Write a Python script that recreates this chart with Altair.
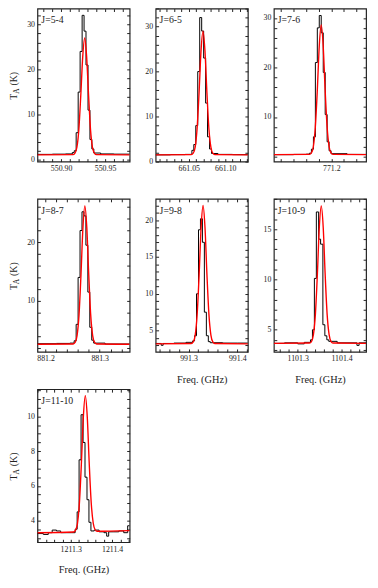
import math
import altair as alt
import pandas as pd

FONT = "Liberation Serif"
INK = "#222222"
RED = "#ff0000"
W, H = 94, 156

# ---------------- J=5-4 ----------------
p1_label = "J=5-4"
p1_xdomain = [550.873, 550.978]
p1_ydomain = [-0.4, 33.5]
p1_xmajor = [550.90, 550.95]
p1_ymajor = [0, 10, 20, 30]
p1_black_f = [550.873, 550.890, 550.905, 550.9127, 550.9149, 550.9171, 550.9194, 550.9216,
              550.9239, 550.9261, 550.9283, 550.9306, 550.9328, 550.9350, 550.9372, 550.945, 550.960, 550.978]
p1_black_t = [1.2, 1.25, 1.3, 1.6, 2.0, 6.0, 15.0, 24.0, 32.0, 28.5, 21.0, 11.0, 4.5, 2.4, 1.5, 1.3, 1.25, 1.25]
p1_red_f = [550.873, 550.9134, 550.9156, 550.9179, 550.9201, 550.9223, 550.9246, 550.9268,
            550.9290, 550.9313, 550.9335, 550.9357, 550.9380, 550.9402, 550.978]
p1_red_t = [1.1, 1.15, 1.44, 2.73, 6.56, 14.05, 22.9, 27.0, 22.9, 14.05, 6.56, 2.73, 1.44, 1.15, 1.1]

# ---------------- J=6-5 ----------------
p2_label = "J=6-5"
p2_xdomain = [661.0046, 661.131]
p2_ydomain = [0.0, 34.0]
p2_xmajor = [661.05, 661.10]
p2_ymajor = [0, 10, 20, 30]
p2_black_f = [661.0046, 661.025, 661.045, 661.0543, 661.0569, 661.0596, 661.0623, 661.0650,
              661.0677, 661.0704, 661.0731, 661.0757, 661.0785, 661.0812, 661.090, 661.110, 661.131]
p2_black_t = [1.5, 1.55, 1.6, 2.5, 3.8, 8.0, 20.0, 32.0, 29.0, 23.0, 13.0, 5.5, 2.8, 1.8, 1.6, 1.55, 1.55]
p2_red_f = [661.0046, 661.0534, 661.0561, 661.0588, 661.0614, 661.0641, 661.0668, 661.0695,
            661.0722, 661.0749, 661.0776, 661.0803, 661.0829, 661.0856, 661.131]
p2_red_t = [1.5, 1.55, 1.86, 3.23, 7.3, 15.25, 24.6, 29.0, 24.6, 15.25, 7.3, 3.23, 1.86, 1.55, 1.5]

# ---------------- J=7-6 ----------------
p3_label = "J=7-6"
p3_xdomain = [771.1086, 771.2552]
p3_ydomain = [1.0, 31.9]
p3_xmajor = [771.2]
p3_ymajor = [10, 20, 30]
p3_black_f = [771.1086, 771.14, 771.160, 771.1652, 771.1683, 771.1715, 771.1746, 771.1777, 771.1808,
              771.1839, 771.1871, 771.1902, 771.1933, 771.1964, 771.1995, 771.225, 771.2552]
p3_black_t = [2.4, 2.45, 2.5, 2.7, 3.5, 6.0, 21.0, 28.0, 30.5, 27.0, 19.0, 10.5, 5.0, 3.2, 2.6, 2.45, 2.45]
p3_red_f = [771.1086, 771.1652, 771.1683, 771.1714, 771.1745, 771.1777, 771.1808, 771.1839,
            771.1870, 771.1901, 771.1933, 771.1964, 771.1995, 771.2026, 771.2552]
p3_red_t = [2.4, 2.45, 2.75, 4.05, 7.93, 15.5, 24.4, 28.6, 24.4, 15.5, 7.93, 4.05, 2.75, 2.45, 2.4]

# ---------------- J=8-7 ----------------
p4_label = "J=8-7"
p4_xdomain = [881.185, 881.3553]
p4_ydomain = [1.3, 27.4]
p4_xmajor = [881.2, 881.3]
p4_ymajor = [10, 20]
p4_black_f = [881.185, 881.22, 881.245, 881.2528, 881.2565, 881.2601, 881.2637, 881.2673,
              881.2709, 881.2745, 881.2781, 881.2817, 881.2853, 881.2889, 881.31, 881.3553]
p4_black_t = [2.7, 2.75, 2.8, 3.2, 6.0, 14.0, 22.0, 25.2, 24.5, 19.5, 11.5, 5.5, 3.3, 2.8, 2.65, 2.65]
p4_red_f = [881.185, 881.2510, 881.2546, 881.2582, 881.2618, 881.2654, 881.2690, 881.2726,
            881.2762, 881.2798, 881.2834, 881.2870, 881.2906, 881.2942, 881.3553]
p4_red_t = [2.6, 2.65, 2.91, 4.09, 7.58, 14.4, 22.45, 26.2, 22.45, 14.4, 7.58, 4.09, 2.91, 2.65, 2.6]

# ---------------- J=9-8 ----------------
p5_label = "J=9-8"
p5_xdomain = [991.2326, 991.4217]
p5_ydomain = [2.1, 22.9]
p5_xmajor = [991.3, 991.4]
p5_ymajor = [5, 10, 15, 20]
p5_black_f = [991.2326, 991.2440, 991.2480, 991.2700, 991.2950, 991.3084, 991.3124, 991.3164, 991.3205,
              991.3245, 991.3285, 991.3325, 991.3366, 991.3406, 991.3446, 991.3700, 991.4000, 991.4217]
p5_black_t = [3.25, 3.0, 3.25, 3.3, 3.4, 3.6, 4.3, 10.0, 18.7, 20.2, 17.0, 7.5, 4.3, 3.5, 3.35, 3.3, 3.3, 3.3]
p5_red_f = [991.2326, 991.3057, 991.3097, 991.3137, 991.3177, 991.3218, 991.3258, 991.3298,
            991.3338, 991.3378, 991.3419, 991.3459, 991.3499, 991.3539, 991.4217]
p5_red_t = [3.2, 3.24, 3.45, 4.38, 7.17, 12.6, 19.0, 22.0, 19.0, 12.6, 7.17, 4.38, 3.45, 3.24, 3.2]

# ---------------- J=10-9 ----------------
p6_label = "J=10-9"
p6_xdomain = [1101.2456, 1101.4559]
p6_ydomain = [2.8, 18.0]
p6_xmajor = [1101.3, 1101.4]
p6_ymajor = [5, 10, 15]
p6_black_f = [1101.2456, 1101.2700, 1101.3000, 1101.3150, 1101.3291, 1101.3336, 1101.3380, 1101.3425, 1101.3477,
              1101.3522, 1101.3574, 1101.3619, 1101.3664, 1101.3708, 1101.3900, 1101.4350, 1101.4400, 1101.4559]
p6_black_t = [3.65, 3.7, 3.6, 3.75, 4.0, 5.0, 10.1, 16.7, 14.0, 13.5, 5.5, 4.4, 4.0, 3.85, 3.7, 3.45, 3.7, 3.7]
p6_red_f = [1101.2456, 1101.3269, 1101.3313, 1101.3358, 1101.3403, 1101.3448, 1101.3492, 1101.3537,
            1101.3582, 1101.3626, 1101.3671, 1101.3716, 1101.3761, 1101.3805, 1101.4559]
p6_red_t = [3.65, 3.68, 3.83, 4.51, 6.53, 10.48, 15.13, 17.3, 15.13, 10.48, 6.53, 4.51, 3.83, 3.68, 3.65]

# ---------------- J=11-10 ----------------
p7_label = "J=11-10"
p7_xdomain = [1211.2195, 1211.4424]
p7_ydomain = [2.75, 11.57]
p7_xmajor = [1211.3, 1211.4]
p7_ymajor = [4, 6, 8, 10]
p7_black_f = [1211.2195, 1211.2338, 1211.2457, 1211.2552, 1211.2655, 1211.2757, 1211.2893, 1211.3012,
              1211.3107, 1211.3155, 1211.3202, 1211.3250, 1211.3298, 1211.3345, 1211.3393, 1211.3440,
              1211.3488, 1211.3567, 1211.3686, 1211.3805, 1211.3869, 1211.3917, 1211.4043, 1211.4162,
              1211.4281, 1211.4376, 1211.4424]
p7_black_t = [3.25, 3.2, 3.3, 3.45, 3.4, 3.3, 3.3, 3.3,
              3.5, 4.5, 7.5, 10.1, 8.5, 6.5, 5.2, 3.9,
              3.4, 3.45, 3.35, 3.3, 3.1, 3.35, 3.35, 3.4,
              3.3, 3.7, 3.7]
p7_red_f = [1211.2195, 1211.3066, 1211.3114, 1211.3162, 1211.3209, 1211.3257, 1211.3304, 1211.3352,
            1211.3400, 1211.3447, 1211.3495, 1211.3543, 1211.3590, 1211.3638, 1211.4424]
p7_red_t = [3.3, 3.34, 3.43, 3.82, 4.99, 7.26, 9.93, 11.2, 9.95, 7.3, 5.03, 3.86, 3.47, 3.38, 3.42]

x_title = "Freq. (GHz)"
y_title_parts = ["T", "A", "(K)"]

panels = [
    dict(label=p1_label, xd=p1_xdomain, yd=p1_ydomain, xm=p1_xmajor, ym=p1_ymajor, xminor=0.01, yminor=2,
         xfmt=".2f", bf=p1_black_f, bt=p1_black_t, rf=p1_red_f, rt=p1_red_t, xtitle=False, ytitle=True),
    dict(label=p2_label, xd=p2_xdomain, yd=p2_ydomain, xm=p2_xmajor, ym=p2_ymajor, xminor=0.01, yminor=2,
         xfmt=".2f", bf=p2_black_f, bt=p2_black_t, rf=p2_red_f, rt=p2_red_t, xtitle=False, ytitle=False),
    dict(label=p3_label, xd=p3_xdomain, yd=p3_ydomain, xm=p3_xmajor, ym=p3_ymajor, xminor=0.02, yminor=2,
         xfmt=".1f", bf=p3_black_f, bt=p3_black_t, rf=p3_red_f, rt=p3_red_t, xtitle=False, ytitle=False),
    dict(label=p4_label, xd=p4_xdomain, yd=p4_ydomain, xm=p4_xmajor, ym=p4_ymajor, xminor=0.02, yminor=2,
         xfmt=".1f", bf=p4_black_f, bt=p4_black_t, rf=p4_red_f, rt=p4_red_t, xtitle=False, ytitle=True),
    dict(label=p5_label, xd=p5_xdomain, yd=p5_ydomain, xm=p5_xmajor, ym=p5_ymajor, xminor=0.02, yminor=1,
         xfmt=".1f", bf=p5_black_f, bt=p5_black_t, rf=p5_red_f, rt=p5_red_t, xtitle=True, ytitle=False),
    dict(label=p6_label, xd=p6_xdomain, yd=p6_ydomain, xm=p6_xmajor, ym=p6_ymajor, xminor=0.02, yminor=1,
         xfmt=".1f", bf=p6_black_f, bt=p6_black_t, rf=p6_red_f, rt=p6_red_t, xtitle=True, ytitle=False),
    dict(label=p7_label, xd=p7_xdomain, yd=p7_ydomain, xm=p7_xmajor, ym=p7_ymajor, xminor=0.02, yminor=0.5,
         xfmt=".1f", bf=p7_black_f, bt=p7_black_t, rf=p7_red_f, rt=p7_red_t, xtitle=True, ytitle=True),
]


def tick_values(lo, hi, step):
    k0 = math.ceil(lo / step - 1e-6)
    k1 = math.floor(hi / step + 1e-6)
    return [round(k * step, 6) for k in range(k0, k1 + 1)]


def make_panel(p):
    xs = alt.Scale(domain=p["xd"], nice=False, zero=False)
    ys = alt.Scale(domain=p["yd"], nice=False, zero=False)
    xt = tick_values(p["xd"][0], p["xd"][1], p["xminor"])
    yt = tick_values(p["yd"][0], p["yd"][1], p["yminor"])
    xmaj = ",".join("'%.3f'" % v for v in p["xm"])
    ymaj = ",".join("'%.3f'" % v for v in p["ym"])
    xlab = (f"indexof([{xmaj}], format(datum.value, '.3f')) >= 0 ? "
            f"format(datum.value, '{p['xfmt']}') : ''")
    ylab = (f"indexof([{ymaj}], format(datum.value, '.3f')) >= 0 ? "
            f"format(datum.value, '.0f') : ''")
    common = dict(domain=False, grid=False, tickColor=INK, tickWidth=1.0,
                  tickSize={"expr": "-3"}, labelFlush=False, labelOverlap=False,
                  minExtent=0)
    lab = dict(labelFont=FONT, labelFontSize=8, labelColor=INK, labelPadding=6)
    if p["xtitle"]:
        xb = alt.Axis(orient="bottom", values=xt, labelExpr=xlab, title=x_title,
                      titleFont=FONT, titleFontSize=10.5, titleFontWeight="normal",
                      titleColor=INK, titlePadding=12, **lab, **common)
    else:
        xb = alt.Axis(orient="bottom", values=xt, labelExpr=xlab, title=None, **lab, **common)
    yl = alt.Axis(orient="left", values=yt, labelExpr=ylab, title=None, **lab, **common)
    xtop = alt.Axis(orient="top", values=xt, labels=False, title=None, **common)
    yright = alt.Axis(orient="right", values=yt, labels=False, title=None, **common)

    black = alt.Chart(pd.DataFrame({"f": p["bf"], "T": p["bt"]})).mark_line(
        color="black", strokeWidth=1.0, interpolate="step-after", clip=True
    ).encode(x=alt.X("f:Q", scale=xs, axis=xb), y=alt.Y("T:Q", scale=ys, axis=yl))

    red = alt.Chart(pd.DataFrame({"f": p["rf"], "T": p["rt"]})).mark_line(
        color=RED, strokeWidth=1.4, interpolate="monotone", clip=True
    ).encode(x=alt.X("f:Q", scale=xs, axis=xtop), y=alt.Y("T:Q", scale=ys, axis=yright))

    label = alt.Chart(pd.DataFrame({"s": [p["label"]]})).mark_text(
        font=FONT, fontSize=10, color=INK, align="left", baseline="alphabetic"
    ).encode(x=alt.value(4), y=alt.value(15), text="s:N")

    layers = [black, red, label]
    if p["ytitle"]:
        mid = H / 2
        specs = [(y_title_parts[0], 10, -21, mid + 15),
                 (y_title_parts[1], 7.5, -19, mid + 8.9),
                 (y_title_parts[2], 10, -21, mid + 0.5)]
        for txt, fs, xx, yy in specs:
            layers.append(
                alt.Chart(pd.DataFrame({"s": [txt]})).mark_text(
                    font=FONT, fontSize=fs, color=INK, align="left",
                    baseline="alphabetic", angle=270
                ).encode(x=alt.value(xx), y=alt.value(yy), text="s:N")
            )
    return alt.layer(*layers).resolve_axis(x="independent", y="independent").properties(
        width=W, height=H)


chart = alt.concat(
    *[make_panel(p) for p in panels],
    columns=3,
    spacing={"row": 38, "column": 26.5},
    bounds="flush",
).properties(
    padding={"left": 0, "top": -10, "right": 2, "bottom": 2}
).configure_view(stroke=INK, strokeWidth=1.2)

chart.save("out.html", embed_options={"renderer": "svg", "actions": False})
